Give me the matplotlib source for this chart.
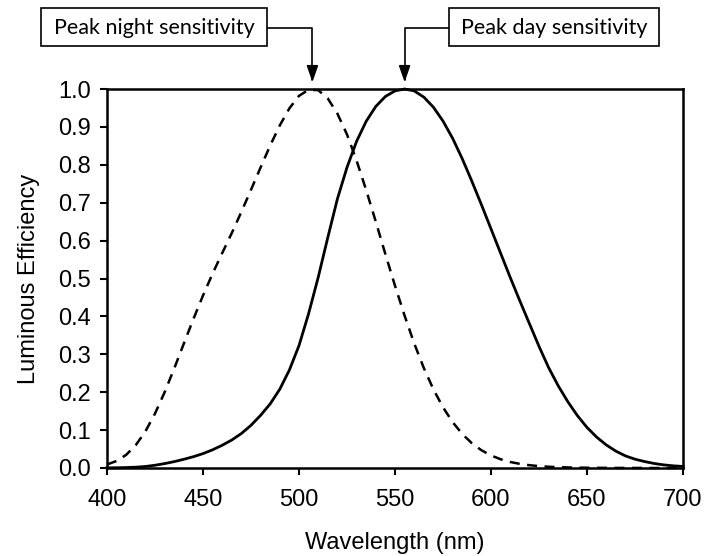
import numpy as np
import matplotlib
matplotlib.use("Agg")
import matplotlib.pyplot as plt
from matplotlib.patches import Rectangle

# Wavelengths (nm)
wavelength = [400, 405, 410, 415, 420, 425, 430, 435, 440, 445, 450, 455, 460, 465, 470,
              475, 480, 485, 490, 495, 500, 505, 510, 515, 520, 525, 530, 535, 540, 545,
              550, 555, 560, 565, 570, 575, 580, 585, 590, 595, 600, 605, 610, 615, 620,
              625, 630, 635, 640, 645, 650, 655, 660, 665, 670, 675, 680, 685, 690, 695, 700]

# Day (photopic) luminous efficiency - solid curve
day = [0.0004, 0.0006, 0.0012, 0.0022, 0.0040, 0.0073, 0.0116, 0.0168, 0.0230, 0.0298,
       0.0380, 0.0480, 0.0600, 0.0739, 0.0910, 0.1126, 0.1390, 0.1693, 0.2080, 0.2586,
       0.3230, 0.4073, 0.5030, 0.6082, 0.7100, 0.7932, 0.8620, 0.9149, 0.9540, 0.9803,
       0.9950, 1.0000, 0.9950, 0.9786, 0.9520, 0.9154, 0.8700, 0.8163, 0.7570, 0.6949,
       0.6310, 0.5668, 0.5030, 0.4412, 0.3810, 0.3210, 0.2650, 0.2170, 0.1750, 0.1382,
       0.1070, 0.0816, 0.0610, 0.0446, 0.0320, 0.0232, 0.0170, 0.0119, 0.0082, 0.0057, 0.0041]

# Night (scotopic) luminous efficiency - dashed curve
night = [0.0093, 0.0185, 0.0348, 0.0604, 0.0966, 0.1436, 0.1998, 0.2625, 0.3281, 0.3931,
         0.4550, 0.5130, 0.5670, 0.6200, 0.6760, 0.7340, 0.7930, 0.8510, 0.9040, 0.9490,
         0.9820, 0.9980, 0.9970, 0.9750, 0.9350, 0.8800, 0.8110, 0.7330, 0.6500, 0.5640,
         0.4810, 0.4020, 0.3288, 0.2639, 0.2076, 0.1602, 0.1212, 0.0899, 0.0655, 0.0469,
         0.0332, 0.0231, 0.0159, 0.0109, 0.0074, 0.0050, 0.0033, 0.0022, 0.0015, 0.0010,
         0.0007, 0.0005, 0.0003, 0.0002, 0.0001, 0.0001, 0.0001, 0.0000, 0.0000, 0.0000, 0.0000]

x_ticks = [400, 450, 500, 550, 600, 650, 700]
y_ticks = [0.0, 0.1, 0.2, 0.3, 0.4, 0.5, 0.6, 0.7, 0.8, 0.9, 1.0]
y_ticklabels = ["0.0", "0.1", "0.2", "0.3", "0.4", "0.5", "0.6", "0.7", "0.8", "0.9", "1.0"]

plt.rcParams['font.family'] = ['Liberation Sans', 'DejaVu Sans']

W, H = 705, 556
fig = plt.figure(figsize=(W / 100, H / 100), dpi=100)
ax = fig.add_axes([107 / W, 1 - 468 / H, (683 - 107) / W, (468 - 89) / H])

ax.plot(wavelength, night, color='black', lw=1.8, linestyle=(0, (4.0, 3.0)), clip_on=False)
ax.plot(wavelength, day, color='black', lw=2.0, clip_on=False)

ax.set_xlim(400, 700)
ax.set_ylim(0, 1.0)
ax.set_xticks(x_ticks)
ax.set_yticks(y_ticks)
ax.set_yticklabels(y_ticklabels)
ax.tick_params(axis='both', direction='out', length=5, width=1.5, labelsize=17,
               colors='black')
ax.tick_params(axis='y', pad=6.5)
ax.tick_params(axis='x', pad=10)
for s in ax.spines.values():
    s.set_linewidth(1.8)

ax.set_xlabel("Wavelength (nm)", fontsize=17, labelpad=15)
ax.set_ylabel("Luminous Efficiency", fontsize=17, labelpad=13)

box_font = ['Lato', 'Liberation Sans', 'DejaVu Sans']
night_peak = wavelength[int(np.argmax(night))] + 2
day_peak = wavelength[int(np.argmax(day))]

# boxes in figure pixels: (left, right, top, bottom)
boxes = [("Peak night sensitivity", 41, 267, 8, 46, night_peak, 'right'),
         ("Peak day sensitivity", 449, 659, 8, 46, day_peak, 'left')]

for label, x0, x1, y0, y1, peak, side in boxes:
    fig.patches.append(Rectangle((x0 / W, 1 - y1 / H), (x1 - x0) / W, (y1 - y0) / H,
                                 transform=fig.transFigure, fc='white', ec='black',
                                 lw=1.2, zorder=5))
    fig.text((x0 + x1) / 2 / W, 1 - (y0 + y1) / 2 / H - 0.002, label, ha='center',
             va='center', fontsize=15.5, family=box_font, zorder=6)
    start_x = x1 if side == 'right' else x0
    ax.annotate("", xy=(peak, 1.018), xycoords=('data', 'axes fraction'),
                xytext=(start_x / W, 1 - 28.3 / H), textcoords='figure fraction',
                arrowprops=dict(arrowstyle='-|>,head_length=1.0,head_width=0.35',
                                color='black', lw=1.2, mutation_scale=10,
                                shrinkA=0, shrinkB=0,
                                connectionstyle='angle,angleA=0,angleB=90,rad=0'),
                annotation_clip=False)

fig.savefig("out.png", dpi=100)
